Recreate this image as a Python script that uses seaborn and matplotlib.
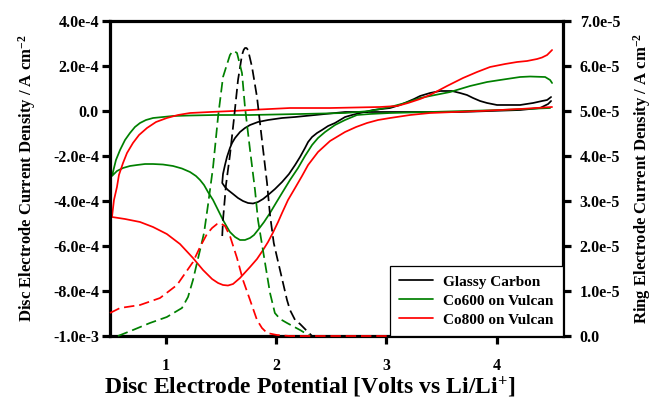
import matplotlib
matplotlib.use("Agg")
import matplotlib.pyplot as plt
import seaborn as sns
import pandas as pd
from matplotlib.ticker import FixedLocator, FixedFormatter

# ---------------- data ----------------
series_names = ["Glassy Carbon", "Co600 on Vulcan", "Co800 on Vulcan"]
series_colors = ["#000000", "#008000", "#ff0000"]

# disc currents (left axis, A cm-2), potential in V vs Li/Li+
gc_disc_v = [4.492, 4.465, 4.392, 4.211, 3.939, 3.667, 3.305, 2.942, 2.625, 2.353, 2.172, 2.054,
             1.927, 1.836, 1.764, 1.718, 1.673, 1.628, 1.601, 1.582, 1.555, 1.537, 1.519, 1.512,
             1.537, 1.564, 1.610, 1.655, 1.700, 1.746, 1.791, 1.836, 1.882, 1.927, 1.990, 2.054,
             2.117, 2.172, 2.217, 2.262, 2.290, 2.326, 2.371, 2.416, 2.471, 2.534, 2.625, 2.688,
             2.761, 2.879, 3.033, 3.123, 3.187, 3.250, 3.305, 3.395, 3.486, 3.594, 3.667, 3.730,
             3.785, 3.849, 3.912, 4.002, 4.093, 4.211, 4.329, 4.410, 4.456, 4.492]
gc_disc_i = [0.444e-4, 0.311e-4, 0.133e-4, 0.044e-4, 0.0, -0.044e-4, -0.044e-4, -0.044e-4,
             -0.044e-4, -0.178e-4, -0.267e-4, -0.311e-4, -0.4e-4, -0.489e-4, -0.622e-4,
             -0.756e-4, -0.933e-4, -1.2e-4, -1.422e-4, -1.644e-4, -2.044e-4, -2.4e-4, -2.8e-4,
             -3.2e-4, -3.378e-4, -3.511e-4, -3.689e-4, -3.867e-4, -4.0e-4, -4.089e-4, -4.111e-4,
             -4.044e-4, -3.911e-4, -3.733e-4, -3.467e-4, -3.156e-4, -2.8e-4, -2.4e-4, -2.044e-4,
             -1.644e-4, -1.378e-4, -1.156e-4, -0.978e-4, -0.844e-4, -0.667e-4, -0.533e-4,
             -0.267e-4, -0.178e-4, -0.089e-4, 0.044e-4, 0.133e-4, 0.267e-4, 0.4e-4, 0.533e-4,
             0.667e-4, 0.8e-4, 0.889e-4, 0.889e-4, 0.8e-4, 0.711e-4, 0.578e-4, 0.444e-4,
             0.356e-4, 0.267e-4, 0.267e-4, 0.267e-4, 0.356e-4, 0.444e-4, 0.489e-4, 0.622e-4]

co600_disc_v = [4.501, 4.483, 4.438, 4.302, 4.211, 4.030, 3.912, 3.758, 3.577, 3.395, 3.305, 3.169,
                3.033, 2.942, 2.851, 2.625, 2.217, 1.764, 1.447, 1.220, 1.066, 0.975, 0.885, 0.821,
                0.767, 0.721, 0.676, 0.631, 0.586, 0.549, 0.531, 0.513, 0.558, 0.613, 0.676, 0.740,
                0.812, 0.885, 0.975, 1.066, 1.147, 1.220, 1.274, 1.311, 1.347, 1.383, 1.429, 1.474,
                1.519, 1.555, 1.582, 1.628, 1.673, 1.718, 1.764, 1.800, 1.836, 1.891, 1.945, 1.999,
                2.054, 2.126, 2.199, 2.262, 2.326, 2.380, 2.444, 2.534, 2.625, 2.733, 2.851, 3.033,
                3.395, 4.030, 4.483]
co600_disc_i = [1.244e-4, 1.378e-4, 1.511e-4, 1.533e-4, 1.511e-4, 1.378e-4, 1.289e-4, 1.111e-4,
                0.844e-4, 0.667e-4, 0.578e-4, 0.356e-4, 0.178e-4, 0.089e-4, 0.0, -0.089e-4,
                -0.133e-4, -0.178e-4, -0.178e-4, -0.2e-4, -0.222e-4, -0.267e-4, -0.311e-4,
                -0.4e-4, -0.533e-4, -0.711e-4, -0.978e-4, -1.289e-4, -1.733e-4, -2.178e-4,
                -2.533e-4, -2.889e-4, -2.667e-4, -2.533e-4, -2.444e-4, -2.4e-4, -2.356e-4,
                -2.356e-4, -2.378e-4, -2.444e-4, -2.556e-4, -2.711e-4, -2.889e-4, -3.067e-4,
                -3.289e-4, -3.6e-4, -3.956e-4, -4.4e-4, -4.844e-4, -5.156e-4, -5.378e-4, -5.6e-4,
                -5.733e-4, -5.733e-4, -5.644e-4, -5.511e-4, -5.289e-4, -4.933e-4, -4.533e-4,
                -4.089e-4, -3.644e-4, -3.067e-4, -2.533e-4, -2.0e-4, -1.511e-4, -1.2e-4,
                -0.933e-4, -0.622e-4, -0.4e-4, -0.178e-4, -0.133e-4, -0.089e-4, -0.044e-4,
                0.044e-4, 0.133e-4]

co800_disc_v = [4.501, 4.483, 4.456, 4.410, 4.365, 4.274, 4.184, 4.075, 3.939, 3.821, 3.694, 3.549,
                3.395, 3.305, 3.196, 3.096, 2.942, 2.489, 2.126, 1.854, 1.610, 1.402, 1.220, 1.111,
                1.010, 0.912, 0.830, 0.758, 0.703, 0.649, 0.613, 0.576, 0.558, 0.531, 0.513, 0.631,
                0.767, 0.885, 1.010, 1.129, 1.247, 1.338, 1.420, 1.474, 1.519, 1.564, 1.610, 1.673,
                1.764, 1.827, 1.882, 1.927, 1.970, 2.018, 2.054, 2.108, 2.172, 2.235, 2.290, 2.380,
                2.489, 2.625, 2.725, 2.824, 2.924, 3.033, 3.214, 3.395, 3.622, 3.849, 4.211, 4.501]
co800_disc_i = [2.711e-4, 2.622e-4, 2.489e-4, 2.378e-4, 2.311e-4, 2.222e-4, 2.178e-4, 2.089e-4,
                1.956e-4, 1.733e-4, 1.467e-4, 1.111e-4, 0.711e-4, 0.533e-4, 0.356e-4, 0.222e-4,
                0.178e-4, 0.133e-4, 0.133e-4, 0.067e-4, 0.0, -0.044e-4, -0.089e-4, -0.178e-4,
                -0.311e-4, -0.489e-4, -0.756e-4, -1.067e-4, -1.422e-4, -1.867e-4, -2.311e-4,
                -2.844e-4, -3.378e-4, -3.956e-4, -4.711e-4, -4.8e-4, -4.933e-4, -5.156e-4,
                -5.467e-4, -5.911e-4, -6.533e-4, -7.067e-4, -7.467e-4, -7.644e-4, -7.733e-4,
                -7.756e-4, -7.689e-4, -7.422e-4, -6.933e-4, -6.578e-4, -6.178e-4, -5.822e-4,
                -5.422e-4, -4.933e-4, -4.533e-4, -3.956e-4, -3.422e-4, -2.889e-4, -2.4e-4,
                -1.822e-4, -1.333e-4, -0.933e-4, -0.711e-4, -0.533e-4, -0.4e-4, -0.311e-4,
                -0.178e-4, -0.089e-4, -0.044e-4, 0.0, 0.089e-4, 0.178e-4]

# ring currents (right axis, A cm-2)
gc_ring_v = [1.512, 1.519, 1.546, 1.582, 1.619, 1.655, 1.691, 1.706, 1.718, 1.732, 1.746, 1.782,
             1.827, 1.872, 1.918, 1.945, 1.979, 2.008, 2.063, 2.099, 2.126, 2.172, 2.217, 2.271,
             2.326, 2.489]
gc_ring_i = [2.222e-5, 2.578e-5, 3.356e-5, 4.022e-5, 4.844e-5, 5.689e-5, 6.244e-5, 6.356e-5,
             6.4e-5, 6.4e-5, 6.356e-5, 5.978e-5, 5.311e-5, 4.356e-5, 3.4e-5, 2.689e-5, 2.067e-5,
             1.756e-5, 1.178e-5, 0.8e-5, 0.578e-5, 0.356e-5, 0.267e-5, 0.133e-5, 0.0, 0.0]

co600_ring_v = [0.567, 0.703, 0.857, 1.010, 1.147, 1.202, 1.247, 1.283, 1.311, 1.347, 1.383, 1.429,
                1.474, 1.519, 1.582, 1.601, 1.619, 1.646, 1.691, 1.718, 1.764, 1.809, 1.836, 1.900,
                1.945, 1.989, 2.036, 2.099, 2.217, 2.308]
co600_ring_i = [0.0, 0.133e-5, 0.289e-5, 0.422e-5, 0.622e-5, 0.867e-5, 1.244e-5, 1.622e-5,
                1.911e-5, 2.289e-5, 2.911e-5, 3.756e-5, 4.867e-5, 5.756e-5, 6.244e-5, 6.311e-5,
                6.333e-5, 6.289e-5, 5.844e-5, 5.089e-5, 4.133e-5, 3.244e-5, 2.578e-5, 1.622e-5,
                0.956e-5, 0.511e-5, 0.378e-5, 0.289e-5, 0.133e-5, 0.0]

co800_ring_v = [0.495, 0.586, 0.767, 0.948, 1.102, 1.247, 1.311, 1.374, 1.420, 1.465, 1.492, 1.537,
                1.582, 1.646, 1.700, 1.764, 1.827, 1.872, 1.918, 2.008, 2.126, 3.196]
co800_ring_i = [0.511e-5, 0.622e-5, 0.689e-5, 0.844e-5, 1.133e-5, 1.644e-5, 1.978e-5, 2.267e-5,
                2.4e-5, 2.489e-5, 2.511e-5, 2.444e-5, 2.222e-5, 1.733e-5, 1.244e-5, 0.8e-5,
                0.356e-5, 0.178e-5, 0.067e-5, 0.022e-5, 0.0, 0.0]

left_ticks = [-1.0e-3, -8.0e-4, -6.0e-4, -4.0e-4, -2.0e-4, 0.0, 2.0e-4, 4.0e-4]
left_tick_labels = ["-1.0e-3", "-8.0e-4", "-6.0e-4", "-4.0e-4", "-2.0e-4", "0.0", "2.0e-4", "4.0e-4"]
right_ticks = [0.0, 1.0e-5, 2.0e-5, 3.0e-5, 4.0e-5, 5.0e-5, 6.0e-5, 7.0e-5]
right_tick_labels = ["0.0", "1.0e-5", "2.0e-5", "3.0e-5", "4.0e-5", "5.0e-5", "6.0e-5", "7.0e-5"]
x_ticks = [1, 2, 3, 4]
x_tick_labels = ["1", "2", "3", "4"]

# ---------------- style ----------------
sns.set_theme(style="white")
plt.rcParams["font.family"] = ["Liberation Serif", "DejaVu Serif"]
plt.rcParams["font.weight"] = "bold"
plt.rcParams["mathtext.fontset"] = "custom"
plt.rcParams["mathtext.rm"] = "Liberation Serif:bold"
plt.rcParams["mathtext.bf"] = "Liberation Serif:bold"
plt.rcParams["mathtext.it"] = "Liberation Serif:bold:italic"
plt.rcParams["mathtext.default"] = "rm"
plt.rcParams["lines.scale_dashes"] = False

fig = plt.figure(figsize=(6.53, 3.99), dpi=100)
ax = fig.add_axes([110 / 653, 63 / 399, 453 / 653, 315 / 399])
ax2 = ax.twinx()

disc = [(gc_disc_v, gc_disc_i), (co600_disc_v, co600_disc_i), (co800_disc_v, co800_disc_i)]
ring = [(gc_ring_v, gc_ring_i), (co600_ring_v, co600_ring_i), (co800_ring_v, co800_ring_i)]

for (v, i), name, col in zip(disc, series_names, series_colors):
    df = pd.DataFrame({"V": v, "I": i})
    sns.lineplot(data=df, x="V", y="I", ax=ax, sort=False, estimator=None, errorbar=None,
                 color=col, linewidth=1.25, label=name, legend=False)

for (v, i), col in zip(ring, series_colors):
    df = pd.DataFrame({"V": v, "I": i})
    sns.lineplot(data=df, x="V", y="I", ax=ax2, sort=False, estimator=None, errorbar=None,
                 color=col, linewidth=1.25, linestyle=(0, (7.5, 3.5)), legend=False)
for ln in ax2.lines:
    ln.set_clip_on(False)
for ln in ax.lines:
    ln.set_solid_joinstyle("round")

ax.set_xlim(0.495, 4.6)
ax.set_ylim(-1.0e-3, 4.0e-4)
ax2.set_ylim(0.0, 7.0e-5)

ax.xaxis.set_major_locator(FixedLocator(x_ticks))
ax.xaxis.set_major_formatter(FixedFormatter(x_tick_labels))
ax.yaxis.set_major_locator(FixedLocator(left_ticks))
ax.yaxis.set_major_formatter(FixedFormatter(left_tick_labels))
ax2.yaxis.set_major_locator(FixedLocator(right_ticks))
ax2.yaxis.set_major_formatter(FixedFormatter(right_tick_labels))

for sp in ax.spines.values():
    sp.set_visible(True)
    sp.set_color("black")
    sp.set_linewidth(2.3)
for sp in ax2.spines.values():
    sp.set_visible(False)

ax.grid(False)
ax2.grid(False)
ax.tick_params(axis="x", bottom=True, top=False, direction="out", length=6, width=2.3,
               color="black", labelsize=11.5, pad=10, labelcolor="black")
ax.tick_params(axis="y", left=True, right=False, direction="out", length=6, width=2.3,
               color="black", labelsize=11.5, pad=2, labelcolor="black")
ax2.tick_params(axis="y", left=False, right=True, direction="out", length=6, width=2.3,
                color="black", labelsize=11.5, pad=6, labelcolor="black")

ax.set_xlabel("Disc Electrode Potential [Volts vs Li/Li$^{+}$]", fontsize=17,
              fontweight="bold", color="black")
ax.xaxis.set_label_coords(0.4415, -0.122)
ax.set_ylabel("Disc Electrode Current Density / A cm$^{-2}$", fontsize=12,
              fontweight="bold", color="black")
ax.yaxis.set_label_coords(-0.16, 0.5)
ax2.set_ylabel("Ring Electrode Current Density / A cm$^{-2}$", fontsize=12,
               fontweight="bold", color="black")
ax2.yaxis.set_label_coords(1.151, 0.5)

handles, labels = ax.get_legend_handles_labels()
leg = ax2.legend(handles, labels, loc="lower right", bbox_to_anchor=(1.0, 0.0),
                 borderaxespad=0.0, frameon=True, fancybox=False, shadow=False,
                 edgecolor="black", facecolor="white", framealpha=1.0, fontsize=11,
                 handlelength=2.2, handletextpad=0.7, labelspacing=0.35, borderpad=0.6)
leg.get_frame().set_linewidth(0.9)
for t in leg.get_texts():
    t.set_fontweight("bold")
    t.set_color("black")

fig.savefig("out.png", dpi=100)
